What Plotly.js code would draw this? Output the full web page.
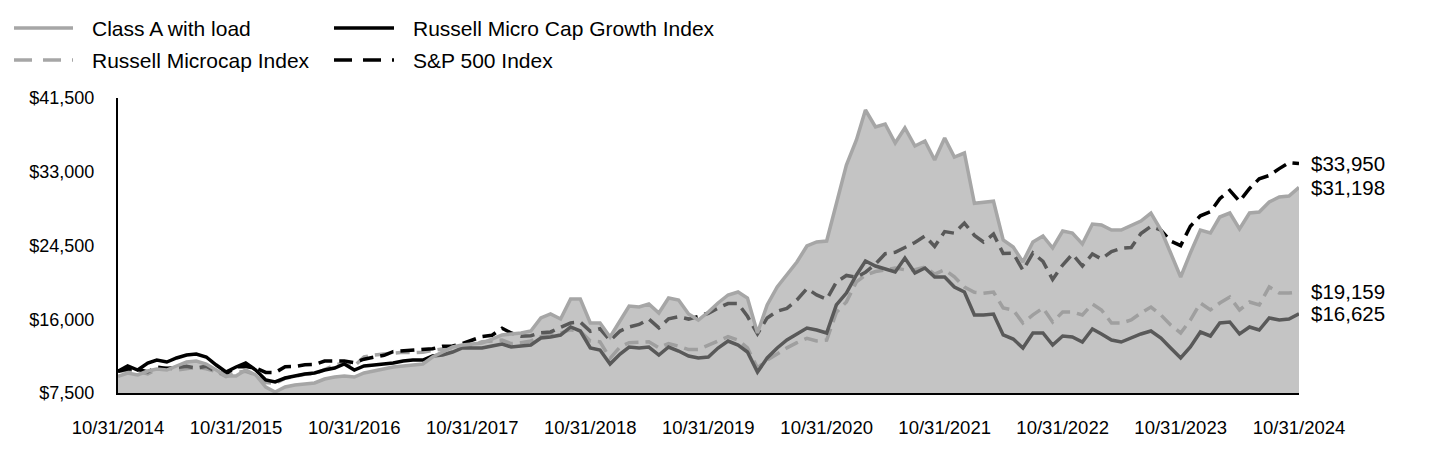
<!DOCTYPE html>
<html>
<head>
<meta charset="utf-8">
<script src="https://cdn.plot.ly/plotly-3.0.1.min.js"></script>
<style>
  html, body { margin: 0; padding: 0; background: #fff; }
  #wykres { width: 1440px; height: 468px; }
</style>
</head>
<body>
<div id="wykres"></div>
<script>
// wartości miesięczne 10/31/2014 – 10/31/2024 (121 punktów)
const klasaA = [
  9425, 9805, 9575, 10035, 10266, 10150, 10612, 11073, 11188, 10842,
  10150, 9459, 9459, 10150, 9575, 8190, 7615, 8190, 8422, 8537,
  8652, 9114, 9344, 9459, 9344, 9805, 10035, 10266, 10497, 10612,
  10727, 10842, 11649, 12225, 12801, 13032, 13147, 13262, 13723, 14185,
  14300, 14415, 14645, 16144, 16605, 16029, 18334, 18334, 15567, 15567,
  13954, 15913, 17527, 17412, 17758, 16720, 18449, 18218, 16605, 15913,
  16835, 17873, 18795, 19140, 18449, 14415, 17642, 19717, 21100, 22598,
  24442, 24903, 25018, 29167, 33777, 36658, 40116, 38157, 38502, 36313,
  38041, 35967, 36543, 34353, 36889, 34699, 35160, 29371, 29487, 29602,
  25133, 24327, 22598, 24903, 25594, 24211, 26171, 25940, 24672, 26977,
  26862, 26286, 26286, 26862, 27323, 28245, 26286, 23635, 20869, 23635,
  26286, 25940, 27784, 28245, 26401, 28245, 28360, 29513, 30089, 30204,
  31198
];
const russellMicrocap = [
  10000, 10100, 10000, 9700, 10250, 10400, 10150, 10300, 10450, 10300,
  9950, 9400, 9900, 10000, 9600, 8700, 8600, 9200, 9400, 9650,
  9700, 10200, 10700, 11000, 10600, 11650, 11880, 12000, 12100, 12200,
  12150, 12200, 12400, 12600, 12800, 12900, 13000, 13400, 13500, 13600,
  13200, 13300, 13500, 14000, 14300, 14400, 14800, 14600, 13500, 13400,
  11500, 12800, 13300, 13300, 13400, 12700, 13200, 12900, 12500, 12500,
  13000, 13500, 14000, 13600, 12700, 10400, 11300, 12000, 12700, 13300,
  13800, 13500, 13600, 16800, 18000, 20300, 21100, 21500, 21700, 21900,
  21700, 21700, 22000, 21200, 21700, 20900, 19700, 19100, 19000, 19140,
  17300, 17070, 15570, 16500, 17300, 15680, 16840, 16840, 16490, 17760,
  17070, 15570, 15570, 15910, 16720, 17410, 16490, 15340, 14415, 15910,
  17870, 17070, 17870, 18560, 17070, 17990, 17640, 19720, 19020, 19020,
  19159
];
const russellGrowth = [
  10000, 10612, 10150, 10958, 11303, 11073, 11534, 11880, 11995, 11649,
  10727, 9920, 10497, 10958, 10150, 8998, 8768, 9229, 9459, 9690,
  9805, 10150, 10381, 10842, 10150, 10612, 10727, 10842, 10958, 11188,
  11303, 11303, 11764, 11880, 12225, 12686, 12686, 12686, 12917, 13147,
  12801, 12917, 13032, 13839, 13954, 14185, 15107, 14645, 12686, 12456,
  10842, 11995, 12801, 12686, 12801, 11880, 12801, 12340, 11764, 11534,
  11649, 12686, 13493, 13032, 12225, 9920, 11534, 12686, 13608, 14300,
  14991, 14761, 14415, 17642, 19025, 21100, 22713, 22137, 21791, 21445,
  23059, 21330, 21906, 20869, 20869, 19717, 19140, 16490, 16490, 16605,
  14185, 13724, 12686, 14415, 14415, 13032, 14069, 13954, 13378, 14876,
  14300, 13608, 13378, 13839, 14300, 14646, 13839, 12686, 11534, 12801,
  14530, 14069, 15568, 15683, 14300, 15107, 14761, 16144, 15913, 16029,
  16625
];
const sp500 = [
  10000, 10270, 10240, 9930, 10500, 10330, 10440, 10570, 10370, 10590,
  9950, 9700, 10520, 10550, 10380, 9870, 9850, 10520, 10560, 10750,
  10780, 11180, 11190, 11200, 11000, 11400, 11630, 11850, 12270, 12340,
  12460, 12470, 12600, 12880, 12920, 13190, 13600, 14010, 14160, 14970,
  14420, 14050, 14110, 14450, 14540, 15080, 15580, 15670, 14600, 14900,
  13550, 14640, 15110, 15400, 16020, 15000, 16050, 16280, 16020, 16330,
  16690, 17290, 17810, 17800, 16340, 14310, 16150, 16920, 17260, 18230,
  19540, 18800, 18290, 20280, 21050, 20840, 21420, 22360, 23550, 23710,
  24260, 24840, 25590, 24390, 26100, 25920, 27080, 25670, 24900, 25820,
  23570, 23610, 21650, 23640, 22670, 20580, 22250, 23500, 22130, 23520,
  22950, 23800, 24170, 24270, 25870, 26700, 26270, 25010, 24490, 26720,
  27920, 28390, 29900, 30860, 29590, 31070, 32190, 32570, 33360, 34060,
  33950
];

const nazwySerii = ['Class A with load', 'Russell Micro Cap Growth Index', 'Russell Microcap Index', 'S&P 500 Index'];
const lataTickow = [2014, 2015, 2016, 2017, 2018, 2019, 2020, 2021, 2022, 2023, 2024];
const tickiY = [7500, 16000, 24500, 33000, 41500];

// daty końca miesiąca od X 2014
const daty = [];
for (let k = 0; k < klasaA.length; k++) {
  const rok = 2014 + Math.floor((9 + k) / 12);
  const mies = (9 + k) % 12;
  daty.push(new Date(Date.UTC(rok, mies + 1, 0)).toISOString().slice(0, 10));
}

const fmtUsd = v => '$' + v.toLocaleString('en-US');
const FONT = '"Liberation Sans", Arial, sans-serif';
const JASNY = '#a6a6a6';

// obszar wykresu w pikselach
const M = { l: 118, r: 141, t: 98, b: 75 };
const W = 1440, H = 468;
const pw = W - M.l - M.r, ph = H - M.t - M.b;
const px2x = px => (px - M.l) / pw;
const px2y = py => (H - M.b - py) / ph;

const slady = [
  { x: daty, y: russellMicrocap, mode: 'lines', line: { color: JASNY, width: 3.5, dash: '14px,7px' } },
  { x: daty, y: russellGrowth, mode: 'lines', line: { color: '#000', width: 3.5 } },
  { x: daty, y: sp500, mode: 'lines', line: { color: '#000', width: 3.5, dash: '14px,7px' } },
  // fundusz: półprzezroczyste wypełnienie przykrywa linie indeksów
  { x: daty, y: klasaA, mode: 'lines', fill: 'tozeroy', fillcolor: 'rgba(153,153,153,0.58)',
    line: { color: JASNY, width: 3.5 } },
];

// legenda rysowana ręcznie (dłuższe próbki linii niż w plotly)
const legenda = [
  { nazwa: nazwySerii[0], kol: 0, wiersz: 0, kolor: JASNY, dash: 'solid' },
  { nazwa: nazwySerii[1], kol: 1, wiersz: 0, kolor: '#000', dash: 'solid' },
  { nazwa: nazwySerii[2], kol: 0, wiersz: 1, kolor: JASNY, dash: '18px,11px' },
  { nazwa: nazwySerii[3], kol: 1, wiersz: 1, kolor: '#000', dash: '18px,11px' },
];
const kolX = [{ l0: 14, l1: 73, t: 90 }, { l0: 334, l1: 394, t: 411 }];
const wierszY = [28, 60];

const ksztalty = legenda.map(e => ({
  type: 'line', xref: 'paper', yref: 'paper',
  x0: px2x(kolX[e.kol].l0), x1: px2x(kolX[e.kol].l1),
  y0: px2y(wierszY[e.wiersz]), y1: px2y(wierszY[e.wiersz]),
  line: { color: e.kolor, width: 3.5, dash: e.dash },
}));
const adnotacje = legenda.map(e => ({
  xref: 'paper', yref: 'paper', x: px2x(kolX[e.kol].t), y: px2y(wierszY[e.wiersz] + 1),
  text: e.nazwa, showarrow: false, xanchor: 'left', yanchor: 'middle',
  font: { family: FONT, size: 21, color: '#000' },
}));

// etykiety wartości końcowych
const ost = daty.length - 1;
[sp500, klasaA, russellMicrocap, russellGrowth].forEach(s => {
  adnotacje.push({
    x: daty[ost], y: s[ost], xref: 'x', yref: 'y', text: fmtUsd(s[ost]),
    showarrow: false, xanchor: 'left', yanchor: 'middle', xshift: 10,
    font: { family: FONT, size: 20.5, color: '#000' },
  });
});

const uklad = {
  width: W, height: H,
  margin: M,
  paper_bgcolor: '#fff', plot_bgcolor: '#fff',
  showlegend: false,
  font: { family: FONT, size: 18, color: '#000' },
  xaxis: {
    type: 'date', range: [daty[0], daty[ost]],
    tickvals: lataTickow.map(r => r + '-10-31'),
    ticktext: lataTickow.map(r => '10/31/' + r),
    showgrid: false, zeroline: false, ticks: '',
    showline: true, linecolor: '#000', linewidth: 2,
    tickfont: { family: FONT, size: 18.5, color: '#000' },
    ticklabelstandoff: 17,
  },
  yaxis: {
    range: [7500, 41500],
    tickvals: tickiY, ticktext: tickiY.map(fmtUsd),
    showgrid: false, zeroline: false, ticks: '',
    showline: true, linecolor: '#000', linewidth: 2,
    tickfont: { family: FONT, size: 18, color: '#000' },
    ticklabelstandoff: 18,
  },
  shapes: ksztalty,
  annotations: adnotacje,
};

Plotly.newPlot('wykres', slady, uklad, { displayModeBar: false, staticPlot: true });
</script>
</body>
</html>
